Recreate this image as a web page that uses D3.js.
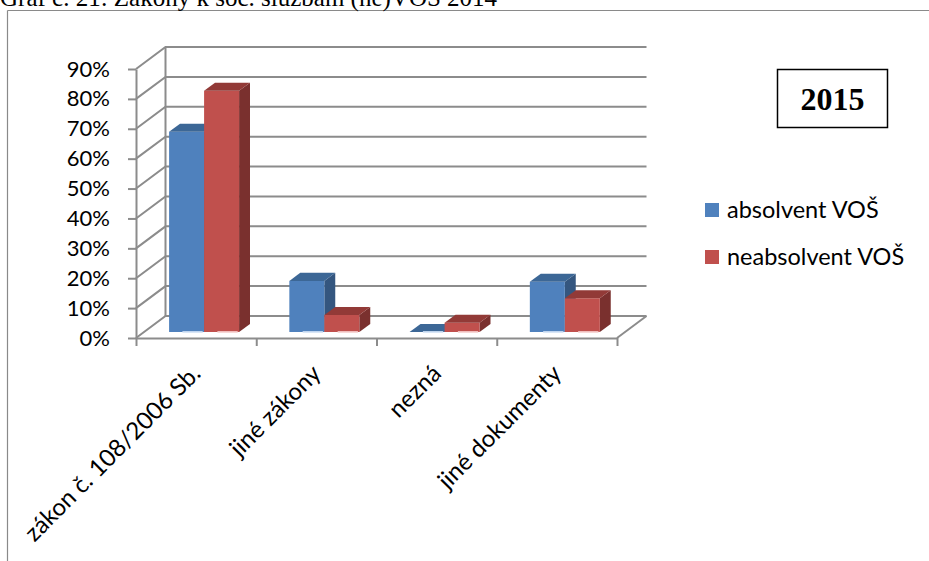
<!DOCTYPE html>
<html>
<head>
<meta charset="utf-8">
<script src="https://cdn.jsdelivr.net/npm/d3@7"></script>
<style>
  html, body { margin: 0; padding: 0; background: #fff; }
  svg { display: block; }
</style>
</head>
<body>
<svg id="chart" width="929" height="561"></svg>
<script>
// ---- data ----
const caption = "Graf č. 21: Zákony k soc. službám (ne)VOŠ 2014";
const yearLabel = "2015";
const categories = ["zákon č. 108/2006 Sb.", "jiné zákony", "nezná", "jiné dokumenty"];
const seriesNames = ["absolvent VOŠ", "neabsolvent VOŠ"];
const absolventValues = [0.67, 0.171, 0, 0.168];
const neabsolventValues = [0.807, 0.057, 0.031, 0.113];
const yTicks = [0, 0.1, 0.2, 0.3, 0.4, 0.5, 0.6, 0.7, 0.8, 0.9];

// ---- styles ----
const colors = {
  front: ["#4F81BD", "#C0504D"],
  top:   ["#3C6796", "#923A37"],
  side:  ["#34567F", "#7A302E"],
  glow:  ["#C6D9F1", "#F2C4C3"]
};
const gridColor = "#8C8C8C";
const font = "Lato, 'Open Sans', sans-serif";

const svg = d3.select("#chart");

// frame
svg.append("line").attr("x1", 7.5).attr("x2", 929).attr("y1", 10.5).attr("y2", 10.5)
  .attr("stroke", "#8a8a8a").attr("stroke-width", 1.2);
svg.append("line").attr("x1", 7.5).attr("x2", 7.5).attr("y1", 10.5).attr("y2", 561)
  .attr("stroke", "#8a8a8a").attr("stroke-width", 1.2);

// caption (clipped at top, as in the source document)
svg.append("text").attr("x", 0).attr("y", 5.5)
  .attr("font-family", "'Liberation Serif', 'Times New Roman', serif")
  .attr("font-size", 25).attr("fill", "#000").text(caption);

// ---- scales ----
const X0 = 136, X1 = 617;
const DX = 29.5, DY = -22;            // full depth offset
const y = d3.scaleLinear().domain([0, 0.9]).range([338, 69]);
const xBand = d3.scaleBand().domain(categories).range([X0, X1]).padding(0);
const xEdge = d3.scaleLinear().domain([0, categories.length]).range([X0, X1]);
const xSub = d3.scaleBand().domain(seriesNames).range([0, xBand.bandwidth()]).paddingInner(0).paddingOuter(0.718);

const P = (x, v, d) => [x + d * DX, y(v) + d * DY];

// ---- walls / grid ----
const grid = svg.append("g").attr("stroke", gridColor).attr("stroke-width", 2).attr("fill", "none");
yTicks.forEach(t => {
  const a = P(X0, t, 0), b = P(X0, t, 1), c = P(X1, t, 1);
  grid.append("path").attr("d", `M${a[0]},${a[1]}L${b[0]},${b[1]}L${c[0]},${c[1]}`);
});
{
  const a = P(X0, 0, 1), b = P(X0, 0.9, 1);
  grid.append("line").attr("x1", a[0]).attr("y1", a[1]).attr("x2", b[0]).attr("y2", b[1]);
  const c = P(X1, 0, 0), d = P(X1, 0, 1);
  grid.append("line").attr("x1", c[0]).attr("y1", c[1]).attr("x2", d[0]).attr("y2", d[1]);
}

// ---- axes ----
const yAxis = svg.append("g").attr("transform", `translate(${X0},0)`)
  .call(d3.axisLeft(y).tickValues(yTicks).tickFormat(d3.format(".0%")).tickSize(8).tickSizeOuter(0).tickPadding(18));
yAxis.selectAll("path, line").attr("stroke", gridColor).attr("stroke-width", 2);
yAxis.selectAll("text").attr("font-family", font).attr("font-size", 22).attr("fill", "#000");

const xAxis = svg.append("g").attr("transform", `translate(0,${y(0)})`)
  .call(d3.axisBottom(xEdge).tickValues(d3.range(categories.length + 1)).tickFormat("").tickSize(8).tickSizeOuter(0));
xAxis.selectAll("path, line").attr("stroke", gridColor).attr("stroke-width", 2);

const xLab = svg.append("g").attr("transform", `translate(0,${y(0)})`)
  .call(d3.axisBottom(xBand).tickSize(0));
xLab.select(".domain").remove();
xLab.selectAll("text")
  .attr("font-family", font).attr("font-size", 24).attr("fill", "#000")
  .attr("text-anchor", "end").attr("x", 0).attr("y", 0).attr("dy", 0)
  .attr("transform", "translate(6,37) rotate(-45)");

// ---- bars ----
const D0 = 0.27, D1 = 0.64;
const bars = svg.append("g");
categories.forEach((cat, i) => {
  const vals = [absolventValues[i], neabsolventValues[i]];
  seriesNames.forEach((s, k) => {
    const v = vals[k];
    const xl = xBand(cat) + xSub(s), xr = xl + xSub.bandwidth();
    const fbl = P(xl, 0, D0), fbr = P(xr, 0, D0), ftl = P(xl, v, D0), ftr = P(xr, v, D0);
    const btl = P(xl, v, D1), btr = P(xr, v, D1), bbr = P(xr, 0, D1);
    const poly = pts => "M" + pts.map(p => p.join(",")).join("L") + "Z";
    bars.append("path").attr("d", poly([fbr, ftr, btr, bbr])).attr("fill", colors.side[k]);
    bars.append("path").attr("d", poly([fbl, fbr, ftr, ftl])).attr("fill", colors.front[k]);
    bars.append("path").attr("d", poly([ftl, ftr, btr, btl])).attr("fill", colors.top[k]);
    const w = xr - xl;
    bars.append("rect").attr("x", fbl[0] + w * 0.38).attr("y", fbl[1] - 1)
      .attr("width", w * 0.58).attr("height", 1.6).attr("fill", colors.glow[k]);
  });
});

// ---- year box ----
svg.append("rect").attr("x", 777.5).attr("y", 69.5).attr("width", 110).attr("height", 58)
  .attr("fill", "none").attr("stroke", "#000").attr("stroke-width", 1.5);
svg.append("text").attr("x", 832.5).attr("y", 110).attr("text-anchor", "middle")
  .attr("font-family", "'Liberation Serif', 'Times New Roman', serif").attr("font-weight", "bold")
  .attr("font-size", 32).attr("fill", "#000").text(yearLabel);

// ---- legend ----
const legend = svg.append("g");
seriesNames.forEach((s, k) => {
  const yy = 203 + k * 47;
  legend.append("rect").attr("x", 705).attr("y", yy).attr("width", 14).attr("height", 14).attr("fill", colors.front[k]);
  legend.append("text").attr("x", 727).attr("y", yy + 15).attr("font-family", font).attr("font-size", 23.5)
    .attr("fill", "#000").text(s);
});
</script>
</body>
</html>
